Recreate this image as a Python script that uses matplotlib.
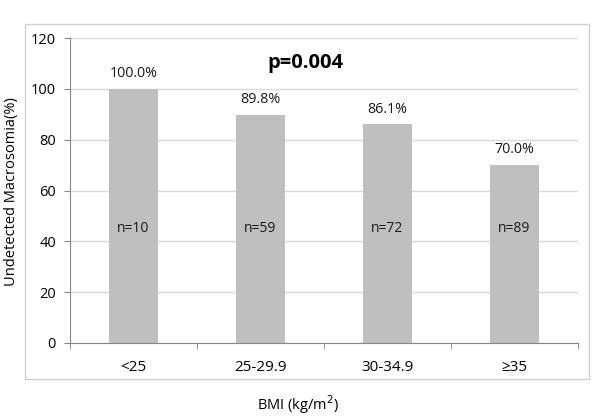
import matplotlib
matplotlib.use("Agg")
import matplotlib.pyplot as plt
from matplotlib.patches import Rectangle

plt.rcParams["font.family"] = ["Open Sans", "DejaVu Sans"]

categories = ["<25", "25-29.9", "30-34.9", "≥35"]
values = [100.0, 89.8, 86.1, 70.0]
counts = [10, 59, 72, 89]
p_text = "p=0.004"

W, H = 601, 417
fig = plt.figure(figsize=(W / 100, H / 100), dpi=100)

# outer chart border (pixels -> figure fraction)
x0, y0, x1, y1 = 25, 24, 589, 379
fig.patches.append(Rectangle((x0 / W, 1 - y1 / H), (x1 - x0) / W, (y1 - y0) / H,
                             transform=fig.transFigure, fill=False,
                             edgecolor="#d0d0d0", linewidth=1.0))

ax = fig.add_axes([70 / W, 1 - 343 / H, (578 - 70) / W, (343 - 38) / H])

pos = list(range(len(categories)))
ax.bar(pos, values, width=0.39, color="#bfbfbf", zorder=2)

for x, v, n in zip(pos, values, counts):
    ax.text(x, v + 3.0, f"{v:.1f}%", ha="center", va="bottom", fontsize=10.3, color="#1a1a1a")
    ax.text(x, 45, f"n={n}", ha="center", va="center", fontsize=10, color="#1a1a1a")

ax.text(1.35, 110, p_text, ha="center", va="center", fontsize=14.5,
        fontweight="bold", color="black")

ax.set_xlim(-0.5, 3.5)
ax.set_ylim(0, 120)
ax.set_yticks(range(0, 121, 20))
ax.yaxis.grid(True, color="#d9d9d9", linewidth=1.0, zorder=0)
ax.set_axisbelow(True)

ax.set_xticks(pos)
ax.set_xticklabels(categories, fontsize=11)
ax.set_xticks([-0.5, 0.5, 1.5, 2.5, 3.5], minor=True)
ax.tick_params(axis="x", which="major", length=0, pad=12)
ax.tick_params(axis="x", which="minor", length=4, color="#868686", direction="out")
ax.tick_params(axis="y", length=4, color="#868686", labelsize=10.5, pad=6)

for side in ["top", "right"]:
    ax.spines[side].set_visible(False)
ax.spines["left"].set_color("#868686")
ax.spines["bottom"].set_color("#868686")

fig.text(12 / W, 1 - 192 / H, "Undetected Macrosomia(%)", rotation=90,
         ha="center", va="center", fontsize=10.5)
fig.text(298 / W, 1 - 405 / H, "BMI (kg/m$^2$)", ha="center", va="center", fontsize=10.5)

fig.savefig("out.png", dpi=100)
